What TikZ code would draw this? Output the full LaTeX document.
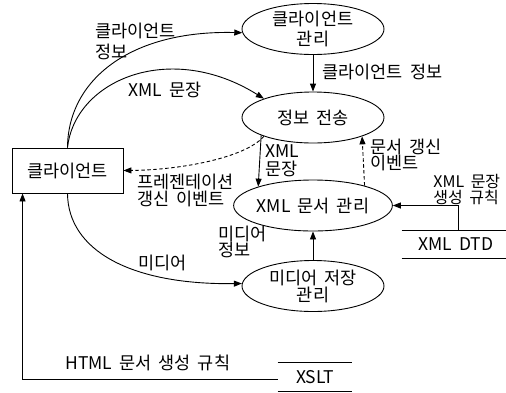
\documentclass[tikz,border=0pt]{standalone}
\usepackage{fontspec}
\setmainfont{Noto Sans CJK KR}[WordSpace=1.8]
\usetikzlibrary{arrows.meta,shapes.geometric}
\begin{document}
\begin{tikzpicture}[x=1pt,y=-1pt,
  font=\fontsize{17.5}{17}\selectfont,
  line width=0.9pt,
  arr/.style={-{Triangle[length=8pt,width=6pt]}},
  dsh/.style={dash pattern=on 3.5pt off 2.5pt},
  proc/.style={ellipse,draw,inner sep=0pt,minimum width=142pt,minimum height=51pt,align=center},
  lbl/.style={anchor=west,align=left,inner sep=0pt},
  store/.style={inner sep=0pt}]
\useasboundingbox (0,0) rectangle (506,392);

% nodes
\node[draw,inner sep=0pt,minimum width=111pt,minimum height=45pt] (client) at (67.5,170.5) {클라이언트};
\node[proc,font=\fontsize{17.5}{20}\selectfont] (e1) at (313,29) {클라이언트\\관리};
\node[proc] (e2) at (313,117.5) {정보 전송};
\node[proc] (e3) at (313,205.5) {XML 문서 관리};
\node[proc] (e4) at (313,286) {미디어 저장\\관리};
\node[store,minimum width=108pt,minimum height=27pt] (dtd) at (456,244.5) {XML DTD};
\draw (dtd.north west) -- (dtd.north east);
\draw (dtd.south west) -- (dtd.south east);
\node[store,minimum width=74pt,minimum height=28pt] (xslt) at (315,377) {XSLT};
\draw (xslt.north west) -- (xslt.north east);
\draw (xslt.south west) -- (xslt.south east);

% connectors
\draw[arr] (client.north) .. controls (68,80) and (130,30) .. (e1.183);
\draw[arr] (client.north) .. controls (75,80) and (170,40) .. (e2.159);
\draw[arr,dsh] (e2.201) .. controls (245,158) and (180,170) .. (client.east);
\draw[arr] (client.south) .. controls (68,250) and (130,285) .. (e4.178);
\draw[arr] (e1) -- (e2);
\draw[arr] (e2.199) -- (e3.161);
\draw[arr,dsh] (e3.21) -- (e2.339);
\draw[arr] (e4) -- (e3);
\draw[arr] ([xshift=2pt]dtd.north) |- (e3);
\draw[arr] ([yshift=-2pt]xslt.west) -| ([xshift=11pt]client.south west);

% labels
\node[lbl,font=\fontsize{17.5}{21}\selectfont] (l1) at (95,41) {클라이언트\\정보};
\node[lbl] (l2) at (128,90) {XML 문장};
\node[lbl] (l3) at (322,72) {클라이언트 정보};
\node[lbl,font=\fontsize{17.5}{18}\selectfont] (l4) at (265,161) {XML\\문장};
\node[lbl,font=\fontsize{17.5}{16.5}\selectfont] (l5) at (370,155) {문서 갱신\\이벤트};
\node[lbl,font=\fontsize{16}{16.5}\selectfont] (l6) at (433,189.5) {XML 문장\\생성 규칙};
\node[lbl] (l7) at (137,190.5) {프레젠테이션\\갱신 이벤트};
\node[lbl] (l8) at (138,263) {미디어};
\node[lbl,font=\fontsize{17.5}{15.5}\selectfont] (l9) at (218,242) {미디어\\정보};
\node[lbl] (l10) at (65,363) {HTML 문서 생성 규칙};
\end{tikzpicture}
\end{document}
